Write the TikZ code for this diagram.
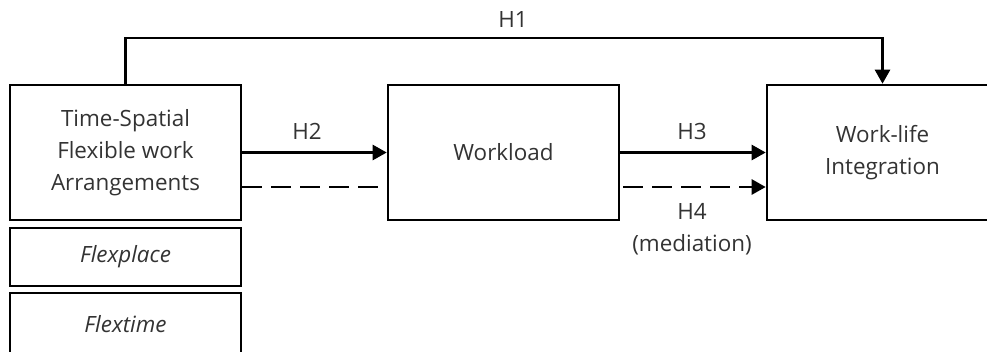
\documentclass[tikz,border=0pt]{standalone}
\usepackage{fontspec}
\setmainfont{Open Sans}
\usetikzlibrary{arrows.meta,positioning}
\definecolor{txtgray}{HTML}{333333}

\begin{document}
\begin{tikzpicture}[x=1bp,y=-1bp,
	box/.style={rectangle,draw=black,line width=2.6bp,minimum width=231bp,minimum height=135bp,inner sep=0pt,align=center,text=txtgray,font=\fontsize{22.5}{32}\selectfont},
	subbox/.style={box,minimum height=58bp},
	lbl/.style={text=txtgray,font=\fontsize{22.5}{32}\selectfont,align=center,inner sep=0pt},
	arr/.style={line width=2.6bp,-{Triangle[length=14bp,width=15bp]}},
	dashline/.style={line width=2.6bp,dash pattern=on 20bp off 9bp}]
	\useasboundingbox (0,0) rectangle (987,351);
	% boxes
	\node[box] (fwa) at (125.5,152.5) {Time-Spatial\\Flexible work\\Arrangements};
	\node[subbox] (place) at (125.5,257) {\itshape Flexplace};
	\node[subbox,minimum height=62bp] (time) at (125.5,324) {\itshape Flextime};
	\node[box] (load) at (503.5,152.5) {Workload};
	\node[box] (wli) at (882.5,152.5) {Work-life\\Integration};
	% paths
	\coordinate (h1) at (513,38);
	\draw[arr,line join=miter] (fwa.north) |- (h1) -| (wli.north);
	\draw[arr] (fwa.east) -- (load.west);
	\draw[dashline] ([yshift=-34.5bp]fwa.east) -- ([yshift=-34.5bp,xshift=-9bp]load.west);
	\draw[arr] (load.east) -- (wli.west);
	\draw[arr,dashline] ([yshift=-34.5bp,xshift=3bp]load.east) -- ([yshift=-34.5bp]wli.west);
	% labels
	\node[lbl] (l1) at (513,19) {H1};
	\node[lbl] (l2) at (307,131) {H2};
	\node[lbl] (l3) at (692,131) {H3};
	\node[lbl] (l4) at (692,229) {H4\\(mediation)};
\end{tikzpicture}
\end{document}
